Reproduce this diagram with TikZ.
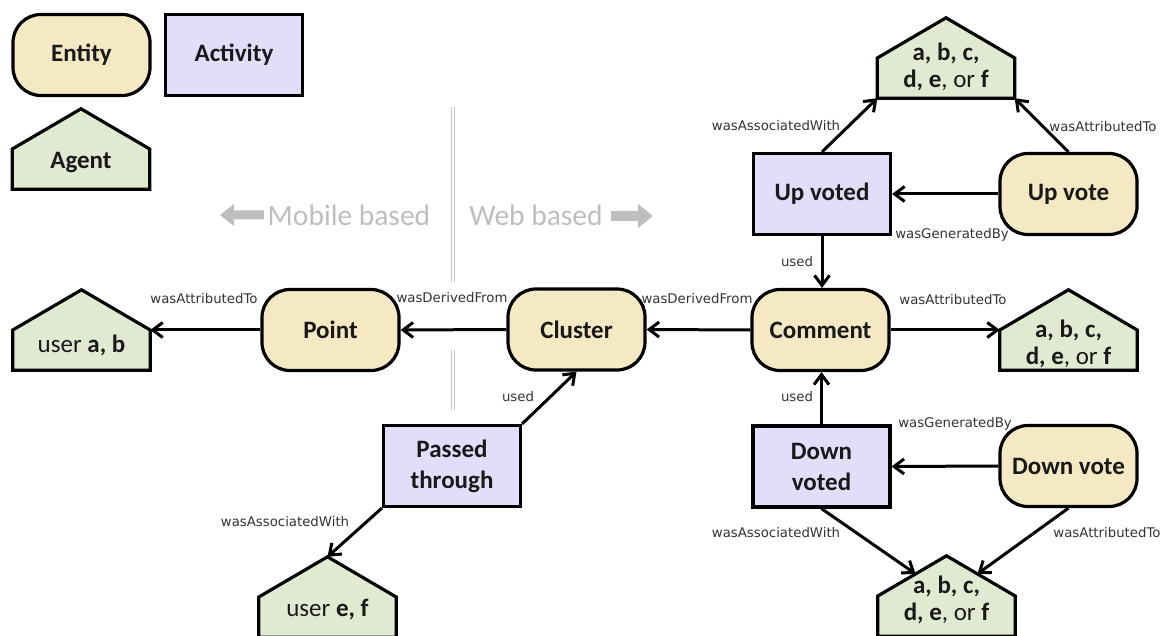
\documentclass[tikz,border=0pt]{standalone}
\usepackage{fontspec}
\setmainfont{Carlito}
\newfontfamily\edgefont{DejaVu Sans}
\usetikzlibrary{arrows.meta,calc}

\definecolor{entityfill}{RGB}{245,233,196}
\definecolor{activityfill}{RGB}{225,222,250}
\definecolor{agentfill}{RGB}{225,234,209}
\definecolor{sidegray}{RGB}{190,190,190}

\tikzset{
  base/.style={draw=black, line width=3.2pt, inner sep=0pt, align=center,
    font=\bfseries\fontsize{25}{31}\selectfont, text=black!90},
  entity/.style={base, fill=entityfill, rounded corners=28pt,
    minimum width=137pt, minimum height=81pt},
  activity/.style={base, fill=activityfill, minimum width=137pt, minimum height=81pt},
  agentbox/.style={inner sep=0pt, minimum width=137pt, minimum height=80pt},
  agentpath/.style={draw=black, line width=3.2pt, fill=agentfill, line join=miter},
  agenttext/.style={align=center, inner sep=0pt, text=black!90,
    font=\fontsize{25}{27}\selectfont},
  rel/.style={line width=3pt, -{Straight Barb[length=10pt,width=15pt]}},
  lbl/.style={font=\edgefont\fontsize{13.3}{15}\selectfont, text=black!80, inner sep=0pt},
  side/.style={font=\fontsize{29.5}{31}\selectfont, text=sidegray, inner sep=0pt},
  sidearrow/.style={fill=sidegray, draw=none},
  divider/.style={draw=black!22, line width=1pt}
}

% pentagon (house) outline over an agent box
\newcommand{\drawagent}[1]{%
  \path[agentpath] (#1.south west) -- (#1.west) -- (#1.north) -- (#1.east)
    -- (#1.south east) -- cycle;}

\begin{document}
\begin{tikzpicture}[x=1pt, y=-1pt]
\path[use as bounding box] (0,0) rectangle (1162,636);

% ---- legend ----
\node[entity] (legent) at (81.5,55) {Entity};
\node[activity] (legact) at (234,55) {Activity};
\node[agentbox] (legag) at (81,149) {};
\drawagent{legag}
\node[agenttext, font=\bfseries\fontsize{25}{27}\selectfont] (legag-t) at (81,163) {Agent};

% ---- mobile / web divider ----
\draw[divider] (451.5,107) -- (451.5,282) (454.5,107) -- (454.5,282);
\draw[divider] (451.5,350) -- (451.5,410) (454.5,350) -- (454.5,410);
\fill[sidearrow] (220,215) -- (234,204) -- (234,210.5) -- (264,210.5)
  -- (264,219.5) -- (234,219.5) -- (234,226) -- cycle;
\node[side] (mobile) at (349,215) {Mobile based};
\node[side] (web) at (536,215) {Web based};
\fill[sidearrow] (653,216) -- (638,204) -- (638,211) -- (611,211)
  -- (611,221) -- (638,221) -- (638,228) -- cycle;

% ---- entities ----
\node[entity] (point) at (330.5,330) {Point};
\node[entity] (cluster) at (576.5,329.5) {Cluster};
\node[entity] (comment) at (820.5,330) {Comment};
\node[entity] (upvote) at (1068.5,194) {Up vote};
\node[entity] (downvote) at (1068.5,466) {Down vote};

% ---- activities ----
\node[activity] (upvoted) at (822,194) {Up voted};
\node[activity] (downvoted) at (821.5,466.5) {Down\\voted};
\node[activity] (passed) at (452,466) {Passed\\through};

% ---- agents ----
\node[agentbox] (uab) at (81.5,330) {};
\drawagent{uab}
\node[agenttext] (uab-t) at (81.5,345) {user \textbf{a, b}};

\node[agentbox] (agright) at (1068.5,330) {};
\drawagent{agright}
\node[agenttext] (agright-t) at (1068.5,344) {\textbf{a, b, c,}\\\textbf{d, e}, or \textbf{f}};

\node[agentbox] (agtop) at (946,58) {};
\drawagent{agtop}
\node[agenttext] (agtop-t) at (946,67) {\textbf{a, b, c,}\\\textbf{d, e}, or \textbf{f}};

\node[agentbox] (agbot) at (946.5,596) {};
\drawagent{agbot}
\node[agenttext] (agbot-t) at (946.5,600) {\textbf{a, b, c,}\\\textbf{d, e}, or \textbf{f}};

\node[agentbox] (uef) at (327.5,597) {};
\drawagent{uef}
\node[agenttext] (uef-t) at (327.5,610) {user \textbf{e, f}};

% ---- relations ----
\draw[rel] (point.west) -- (uab.east);
\draw[rel] (cluster.west) -- (point.east);
\draw[rel] (comment.west) -- (cluster.east);
\draw[rel] (comment.east) -- (agright.west);
\draw[rel] (upvote.west) -- (upvoted.east);
\draw[rel] (upvoted.south) -- (upvoted.south |- comment.north);
\draw[rel] (upvoted.north) -- (agtop.south west);
\draw[rel] (upvote.north) -- (agtop.south east);
\draw[rel] (downvote.west) -- (downvoted.east);
\draw[rel] (downvoted.north) -- (downvoted.north |- comment.south);
\draw[rel] (downvoted.south) -- ($(agbot.north)!0.45!(agbot.west)$);
\draw[rel] (downvote.south) -- ($(agbot.north)!0.45!(agbot.east)$);
\draw[rel] (passed.north east) -- (cluster.south);
\draw[rel] (passed.south west) -- (uef.north);

% ---- relation labels ----
\node[lbl] (l-pu) at (204,299) {wasAttributedTo};
\node[lbl] (l-cp) at (452,298) {wasDerivedFrom};
\node[lbl] (l-cc) at (697,299) {wasDerivedFrom};
\node[lbl] (l-ca) at (953,300) {wasAttributedTo};
\node[lbl] (l-uva) at (776,126) {wasAssociatedWith};
\node[lbl] (l-uta) at (1103,127) {wasAttributedTo};
\node[lbl] (l-ug) at (952,235) {wasGeneratedBy};
\node[lbl] (l-uu) at (797,262) {used};
\node[lbl] (l-du) at (797,397) {used};
\node[lbl] (l-dg) at (955,424) {wasGeneratedBy};
\node[lbl] (l-dva) at (776,533) {wasAssociatedWith};
\node[lbl] (l-dta) at (1107,533) {wasAttributedTo};
\node[lbl] (l-pc) at (518,397) {used};
\node[lbl] (l-pa) at (285,522) {wasAssociatedWith};
\end{tikzpicture}
\end{document}
